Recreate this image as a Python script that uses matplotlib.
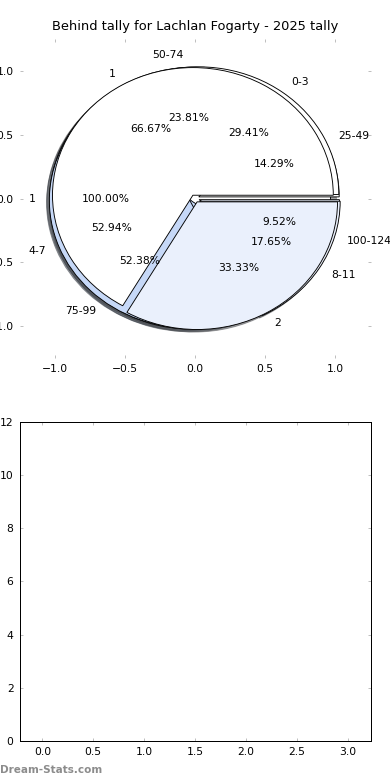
import matplotlib
matplotlib.use("Agg")
import matplotlib.pyplot as plt

# ---- data ----
title = "Behind tally for Lachlan Fogarty - 2025 tally"
pie_d_labels = ["1"]
pie_d_values = [21]
pie_c_labels = ["25-49", "50-74", "75-99", "100-124"]
pie_c_values = [3, 5, 11, 2]
pie_b_labels = ["0-3", "4-7", "8-11"]
pie_b_values = [5, 9, 3]
pie_a_labels = ["1", "2"]
pie_a_values = [14, 7]
pie_ticks = [-1.0, -0.5, 0.0, 0.5, 1.0]
bottom_xticks = [0.0, 0.5, 1.0, 1.5, 2.0, 2.5, 3.0]
bottom_yticks = [0, 2, 4, 6, 8, 10, 12]
watermark = "Dream-Stats.com"

# ---- style ----
WHITE = "#ffffff"
LIGHT = "#eaf0fc"
MID = "#c6d8f7"
FS = 10.7
plt.rcParams.update({
    "font.family": ["DejaVu Sans"],
    "font.size": FS,
    "xtick.direction": "in",
    "ytick.direction": "in",
    "xtick.top": True,
    "ytick.right": True,
    "xtick.major.size": 3,
    "ytick.major.size": 3,
    "xtick.color": "#b0b0b0",
    "ytick.color": "#b0b0b0",
    "xtick.labelcolor": "black",
    "ytick.labelcolor": "black",
    "xtick.labelsize": FS,
    "ytick.labelsize": FS,
    "xtick.major.pad": 6,
    "ytick.major.pad": 6,
    "axes.linewidth": 1.0,
})

fig = plt.figure(figsize=(390 / 72, 780 / 72), dpi=72, facecolor="white")
ax1 = fig.add_subplot(2, 1, 1)
ax2 = fig.add_subplot(2, 1, 2)
fig.subplots_adjust(left=0.05, right=0.95, bottom=0.05, top=0.95, hspace=0.2)

wp = dict(edgecolor="black", linewidth=0.9)
tp = dict(fontsize=FS)
ax1.pie(pie_d_values, labels=pie_d_labels, autopct="%.2f%%", colors=[WHITE],
        explode=[0.035], shadow=True, wedgeprops=wp, textprops=tp)
ax1.pie(pie_c_values, labels=pie_c_labels, autopct="%.2f%%",
        colors=[WHITE, WHITE, MID, LIGHT], explode=[0.03] * 4, shadow=True,
        wedgeprops=wp, textprops=tp)
ax1.pie(pie_b_values, labels=pie_b_labels, autopct="%.2f%%",
        colors=[WHITE, MID, LIGHT], explode=[0.04] * 3, shadow=True,
        wedgeprops=wp, textprops=tp)
ax1.pie(pie_a_values, labels=pie_a_labels, autopct="%.2f%%",
        colors=[WHITE, LIGHT], explode=[0.03] * 2, shadow=True,
        wedgeprops=wp, textprops=tp)
ax1.set_aspect("auto")
ax1.set_frame_on(False)
ax1.set_xlim(-1.25, 1.25)
ax1.set_ylim(-1.25, 1.25)
ax1.set_xticks(pie_ticks)
ax1.set_yticks(pie_ticks)
ax1.set_title(title, fontsize=13, pad=9)

ax2.set_xlim(-0.225, 3.225)
ax2.set_ylim(0, 12)
ax2.set_xticks(bottom_xticks)
ax2.set_yticks(bottom_yticks)

fig.text(0.0, 10 / 780, watermark, color="#8c8c8c", fontsize=10.4,
         fontweight="bold", ha="left", va="center")

fig.savefig("out.png", dpi=72, facecolor="white")
